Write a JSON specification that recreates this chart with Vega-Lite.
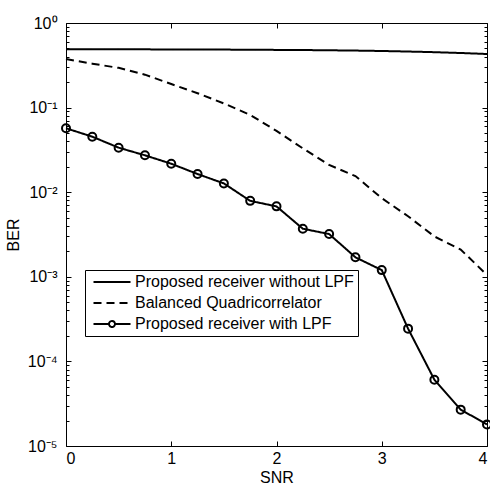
{
  "$schema": "https://vega.github.io/schema/vega-lite/v6.json",
  "width": 421,
  "height": 423,
  "autosize": "none",
  "padding": {"left": 66, "top": 23, "right": 3, "bottom": 38},
  "background": "white",
  "config": {
    "font": "Liberation Sans",
    "view": {"stroke": "black", "strokeWidth": 1},
    "axis": {
      "labelFont": "Liberation Sans",
      "labelFontSize": 16,
      "labelColor": "black",
      "titleFont": "Liberation Sans",
      "titleFontSize": 16,
      "titleFontWeight": "normal",
      "titleColor": "black",
      "tickColor": "black",
      "tickWidth": 1,
      "domain": false,
      "grid": false
    },
    "legend": {
      "labelFont": "Liberation Sans",
      "labelFontSize": 16,
      "labelColor": "black"
    }
  },
  "data": {
    "values": [
      {"snr": 0, "ber": 0.49, "series": "Proposed receiver without LPF"},
      {"snr": 0.25, "ber": 0.49, "series": "Proposed receiver without LPF"},
      {"snr": 0.5, "ber": 0.489, "series": "Proposed receiver without LPF"},
      {"snr": 0.75, "ber": 0.488, "series": "Proposed receiver without LPF"},
      {"snr": 1, "ber": 0.487, "series": "Proposed receiver without LPF"},
      {"snr": 1.25, "ber": 0.486, "series": "Proposed receiver without LPF"},
      {"snr": 1.5, "ber": 0.485, "series": "Proposed receiver without LPF"},
      {"snr": 1.75, "ber": 0.483, "series": "Proposed receiver without LPF"},
      {"snr": 2, "ber": 0.481, "series": "Proposed receiver without LPF"},
      {"snr": 2.25, "ber": 0.479, "series": "Proposed receiver without LPF"},
      {"snr": 2.5, "ber": 0.476, "series": "Proposed receiver without LPF"},
      {"snr": 2.75, "ber": 0.472, "series": "Proposed receiver without LPF"},
      {"snr": 3, "ber": 0.467, "series": "Proposed receiver without LPF"},
      {"snr": 3.25, "ber": 0.46, "series": "Proposed receiver without LPF"},
      {"snr": 3.5, "ber": 0.452, "series": "Proposed receiver without LPF"},
      {"snr": 3.75, "ber": 0.442, "series": "Proposed receiver without LPF"},
      {"snr": 4, "ber": 0.43, "series": "Proposed receiver without LPF"},
      {"snr": 0, "ber": 0.375, "series": "Balanced Quadricorrelator"},
      {"snr": 0.25, "ber": 0.33, "series": "Balanced Quadricorrelator"},
      {"snr": 0.5, "ber": 0.295, "series": "Balanced Quadricorrelator"},
      {"snr": 0.75, "ber": 0.245, "series": "Balanced Quadricorrelator"},
      {"snr": 1, "ber": 0.19, "series": "Balanced Quadricorrelator"},
      {"snr": 1.25, "ber": 0.148, "series": "Balanced Quadricorrelator"},
      {"snr": 1.5, "ber": 0.112, "series": "Balanced Quadricorrelator"},
      {"snr": 1.75, "ber": 0.082, "series": "Balanced Quadricorrelator"},
      {"snr": 2, "ber": 0.053, "series": "Balanced Quadricorrelator"},
      {"snr": 2.25, "ber": 0.033, "series": "Balanced Quadricorrelator"},
      {"snr": 2.5, "ber": 0.021, "series": "Balanced Quadricorrelator"},
      {"snr": 2.75, "ber": 0.0155, "series": "Balanced Quadricorrelator"},
      {"snr": 3, "ber": 0.0085, "series": "Balanced Quadricorrelator"},
      {"snr": 3.25, "ber": 0.0052, "series": "Balanced Quadricorrelator"},
      {"snr": 3.5, "ber": 0.003, "series": "Balanced Quadricorrelator"},
      {"snr": 3.75, "ber": 0.0021, "series": "Balanced Quadricorrelator"},
      {"snr": 4, "ber": 0.00105, "series": "Balanced Quadricorrelator"},
      {"snr": 0, "ber": 0.057, "series": "Proposed receiver with LPF"},
      {"snr": 0.25, "ber": 0.0453, "series": "Proposed receiver with LPF"},
      {"snr": 0.5, "ber": 0.0336, "series": "Proposed receiver with LPF"},
      {"snr": 0.75, "ber": 0.0273, "series": "Proposed receiver with LPF"},
      {"snr": 1, "ber": 0.0217, "series": "Proposed receiver with LPF"},
      {"snr": 1.25, "ber": 0.0164, "series": "Proposed receiver with LPF"},
      {"snr": 1.5, "ber": 0.0127, "series": "Proposed receiver with LPF"},
      {"snr": 1.75, "ber": 0.0079, "series": "Proposed receiver with LPF"},
      {"snr": 2, "ber": 0.0068, "series": "Proposed receiver with LPF"},
      {"snr": 2.25, "ber": 0.0037, "series": "Proposed receiver with LPF"},
      {"snr": 2.5, "ber": 0.0032, "series": "Proposed receiver with LPF"},
      {"snr": 2.75, "ber": 0.0017, "series": "Proposed receiver with LPF"},
      {"snr": 3, "ber": 0.0012, "series": "Proposed receiver with LPF"},
      {"snr": 3.25, "ber": 0.000244, "series": "Proposed receiver with LPF"},
      {"snr": 3.5, "ber": 0.0000608, "series": "Proposed receiver with LPF"},
      {"snr": 3.75, "ber": 0.0000269, "series": "Proposed receiver with LPF"},
      {"snr": 4, "ber": 0.000018, "series": "Proposed receiver with LPF"}
    ]
  },
  "resolve": {"axis": {"x": "independent", "y": "independent"}},
  "layer": [
    {
      "mark": {"type": "line", "stroke": "black", "strokeWidth": 2},
      "encoding": {
        "x": {
          "field": "snr", "type": "quantitative",
          "scale": {"domain": [0, 4], "nice": false, "zero": false},
          "axis": {"orient": "bottom", "values": [0, 1, 2, 3, 4], "format": "d", "tickSize": -5, "labelPadding": 9, "title": "SNR", "titlePadding": 3}
        },
        "y": {
          "field": "ber", "type": "quantitative",
          "scale": {"type": "log", "domain": [0.00001, 1], "nice": false},
          "axis": {
            "orient": "left",
            "values": [0.00001, 0.00002, 0.00003, 0.00004, 0.00005, 0.00006, 0.00007, 0.00008, 0.00009, 0.0001, 0.0002, 0.0003, 0.0004, 0.0005, 0.0006, 0.0007, 0.0008, 0.0009, 0.001, 0.002, 0.003, 0.004, 0.005, 0.006, 0.007, 0.008, 0.009, 0.01, 0.02, 0.03, 0.04, 0.05, 0.06, 0.07, 0.08, 0.09, 0.1, 0.2, 0.3, 0.4, 0.5, 0.6, 0.7, 0.8, 0.9, 1],
            "labelExpr": "abs(log(datum.value)/LN10 - round(log(datum.value)/LN10)) > 0.001 ? '' : '10' + (round(log(datum.value)/LN10) == 0 ? '⁰' : '⁻' + ['⁰','¹','²','³','⁴','⁵'][-round(log(datum.value)/LN10)])",
            "tickSize": {"condition": {"test": "abs(log(datum.value)/LN10 - round(log(datum.value)/LN10)) < 0.001", "value": -5}, "value": -3},
            "labelPadding": 14,
            "title": "BER",
            "titlePadding": 6
          }
        },
        "strokeDash": {
          "field": "series", "type": "nominal",
          "scale": {
            "domain": ["Proposed receiver without LPF", "Balanced Quadricorrelator", "Proposed receiver with LPF"],
            "range": [[1, 0], [8, 5], [1, 0]]
          },
          "legend": {
            "orient": "none",
            "legendX": 19,
            "legendY": 247,
            "title": null,
            "strokeColor": "black",
            "fillColor": "white",
            "padding": 4,
            "symbolSize": 100,
            "symbolStrokeWidth": 2,
            "symbolStrokeColor": "black",
            "symbolFillColor": "transparent",
            "symbolOffset": 15,
            "labelOffset": 15,
            "labelLimit": 400,
            "rowPadding": 5,
            "encode": {
              "symbols": {
                "update": {
                  "shape": [
                    {"test": "datum.value === 'Proposed receiver with LPF'", "value": "M-3.7,0L-0.6,0M0.6,0L3.7,0M0.6,0A0.6,0.6 0 1 1 -0.6,0A0.6,0.6 0 1 1 0.6,0"},
                    {"value": "M-3.7,0L3.7,0"}
                  ]
                }
              }
            }
          }
        }
      }
    },
    {
      "transform": [{"filter": "datum.series === 'Proposed receiver with LPF'"}],
      "mark": {"type": "point", "shape": "circle", "filled": false, "stroke": "black", "strokeWidth": 2, "size": 64, "opacity": 1},
      "encoding": {
        "x": {
          "field": "snr", "type": "quantitative",
          "axis": {"orient": "top", "values": [0, 1, 2, 3, 4], "labels": false, "tickSize": -5, "title": null}
        },
        "y": {
          "field": "ber", "type": "quantitative",
          "axis": {
            "orient": "right",
            "values": [0.00001, 0.00002, 0.00003, 0.00004, 0.00005, 0.00006, 0.00007, 0.00008, 0.00009, 0.0001, 0.0002, 0.0003, 0.0004, 0.0005, 0.0006, 0.0007, 0.0008, 0.0009, 0.001, 0.002, 0.003, 0.004, 0.005, 0.006, 0.007, 0.008, 0.009, 0.01, 0.02, 0.03, 0.04, 0.05, 0.06, 0.07, 0.08, 0.09, 0.1, 0.2, 0.3, 0.4, 0.5, 0.6, 0.7, 0.8, 0.9, 1],
            "labels": false,
            "tickSize": {"condition": {"test": "abs(log(datum.value)/LN10 - round(log(datum.value)/LN10)) < 0.001", "value": -5}, "value": -3},
            "title": null
          }
        }
      }
    }
  ]
}
